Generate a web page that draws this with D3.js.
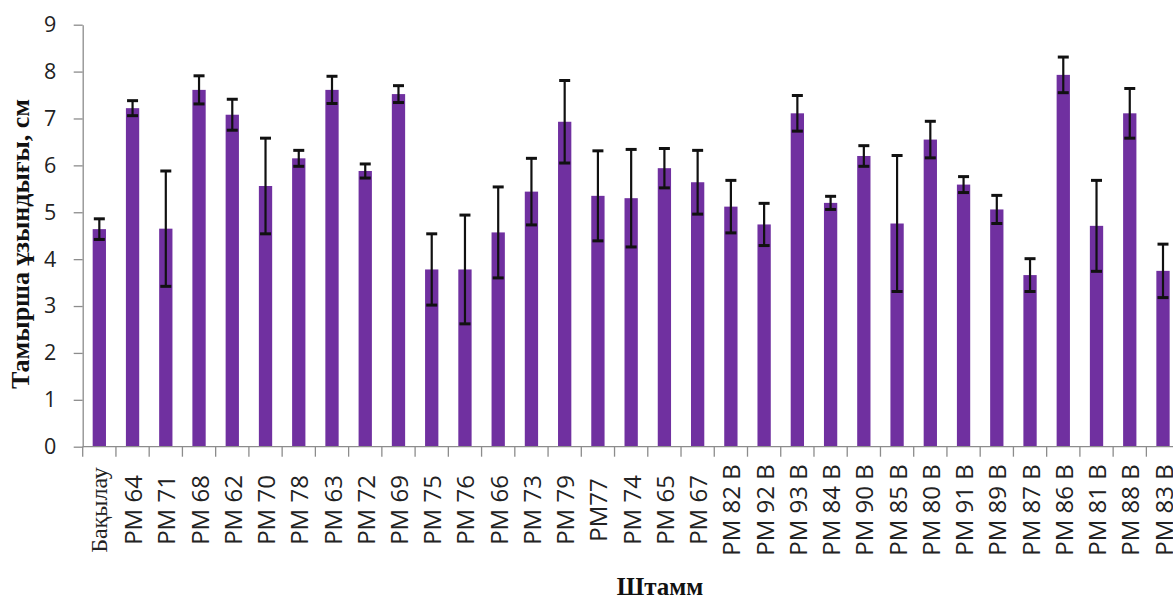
<!DOCTYPE html>
<html>
<head>
<meta charset="utf-8">
<script src="https://cdn.jsdelivr.net/npm/d3@7"></script>
<style>
  html, body { margin: 0; padding: 0; background: #fff; }
  svg { display: block; }
</style>
</head>
<body>
<svg id="chart" width="1173" height="600"></svg>
<script>
// Strains (x categories)
const strains = ["Бақылау","PM 64","PM 71","PM 68","PM 62","PM 70","PM 78","PM 63","PM 72","PM 69",
  "PM 75","PM 76","PM 66","PM 73","PM 79","PM77","PM 74","PM 65","PM 67","PM 82 B","PM 92 B",
  "PM 93 B","PM 84 B","PM 90 B","PM 85 B","PM 80 B","PM 91 B","PM 89 B","PM 87 B","PM 86 B",
  "PM 81 B","PM 88 B","PM 83 B"];

// Mean root length, cm
const rootLength = [4.64,7.22,4.65,7.61,7.08,5.56,6.15,7.61,5.88,7.52,
  3.78,3.78,4.57,5.44,6.93,5.35,5.30,5.94,5.64,5.12,4.74,
  7.11,5.20,6.20,4.76,6.55,5.59,5.06,3.66,7.93,
  4.71,7.11,3.75];

// Error (± half-width), cm
const rootError = [0.22,0.16,1.23,0.30,0.33,1.02,0.17,0.29,0.15,0.18,
  0.76,1.16,0.97,0.71,0.88,0.96,1.04,0.42,0.68,0.56,0.45,
  0.38,0.14,0.22,1.45,0.39,0.17,0.30,0.35,0.38,
  0.97,0.53,0.57];

const yTicks = [0,1,2,3,4,5,6,7,8,9];

const yTitle = "Тамырша ұзындығы, см";
const xTitle = "Штамм";

const rows = strains.map((s, i) => ({ name: s, value: rootLength[i], err: rootError[i] }));

const svg = d3.select("#chart");
const plotLeft = 82.7, plotTop = 24.7, plotBottom = 446.7;
const step = 33.24;
const plotRight = plotLeft + step * strains.length;

const x = d3.scaleBand().domain(strains).range([plotLeft, plotRight]).paddingInner(0.6).paddingOuter(0.3);
const y = d3.scaleLinear().domain([0, 9]).range([plotBottom, plotTop]);

const axisColor = "#8c8c8c";
const sans = "'Open Sans', sans-serif";
const serif = "'Liberation Serif', 'Times New Roman', serif";

// Bars
svg.append("g").selectAll("rect").data(rows).join("rect")
  .attr("x", d => x(d.name))
  .attr("width", x.bandwidth())
  .attr("y", d => y(d.value))
  .attr("height", d => y(0) - y(d.value))
  .attr("fill", "#7030a0");

// Error bars
const eb = svg.append("g").attr("stroke", "#111").attr("fill", "none");
const cx = d => x(d.name) + x.bandwidth() / 2;
const capW = 5.5;
eb.selectAll("line.stem").data(rows).join("line").attr("class", "stem")
  .attr("x1", cx).attr("x2", cx)
  .attr("y1", d => y(d.value + d.err)).attr("y2", d => y(d.value - d.err))
  .attr("stroke-width", 2.2);
eb.selectAll("line.capT").data(rows).join("line").attr("class", "capT")
  .attr("x1", d => cx(d) - capW).attr("x2", d => cx(d) + capW)
  .attr("y1", d => y(d.value + d.err)).attr("y2", d => y(d.value + d.err))
  .attr("stroke-width", 3);
eb.selectAll("line.capB").data(rows).join("line").attr("class", "capB")
  .attr("x1", d => cx(d) - capW).attr("x2", d => cx(d) + capW)
  .attr("y1", d => y(d.value - d.err)).attr("y2", d => y(d.value - d.err))
  .attr("stroke-width", 3);

// Y axis
const yAxis = svg.append("g")
  .attr("transform", `translate(${plotLeft},0)`)
  .call(d3.axisLeft(y).tickValues(yTicks).tickFormat(d3.format("d")).tickSize(9).tickSizeOuter(0).tickPadding(17.5));
yAxis.select(".domain").attr("stroke", axisColor).attr("stroke-width", 1.3);
yAxis.selectAll(".tick line").attr("stroke", axisColor).attr("stroke-width", 1.3);
yAxis.selectAll(".tick text")
  .attr("font-family", sans).attr("font-size", 21.5).attr("fill", "#222");

// X axis: line, boundary ticks, rotated labels
const xg = svg.append("g");
xg.append("line")
  .attr("x1", plotLeft).attr("x2", plotRight)
  .attr("y1", y(0)).attr("y2", y(0))
  .attr("stroke", axisColor).attr("stroke-width", 1.3);
const edges = strains.map(s => x(s) - (x.step() - x.bandwidth()) / 2).concat([plotRight]);
xg.selectAll("line.tick").data(edges).join("line").attr("class", "tick")
  .attr("x1", d => d).attr("x2", d => d)
  .attr("y1", y(0)).attr("y2", y(0) + 10)
  .attr("stroke", axisColor).attr("stroke-width", 1.3);
xg.selectAll("text").data(strains).join("text")
  .attr("transform", d => `translate(${x(d) + x.bandwidth() / 2},510) rotate(-90)`)
  .attr("text-anchor", "middle")
  .attr("dominant-baseline", "central")
  .attr("font-family", d => d === "Бақылау" ? serif : sans)
  .attr("font-size", 24)
  .attr("fill", "#222")
  .text(d => d);

// Axis titles
svg.append("text")
  .attr("transform", "translate(29,244) rotate(-90)")
  .attr("text-anchor", "middle")
  .attr("font-family", serif).attr("font-weight", "bold").attr("font-size", 26)
  .attr("fill", "#111")
  .text(yTitle);

svg.append("text")
  .attr("x", 660).attr("y", 595)
  .attr("text-anchor", "middle")
  .attr("font-family", serif).attr("font-weight", "bold").attr("font-size", 25)
  .attr("fill", "#111")
  .text(xTitle);
</script>
</body>
</html>
